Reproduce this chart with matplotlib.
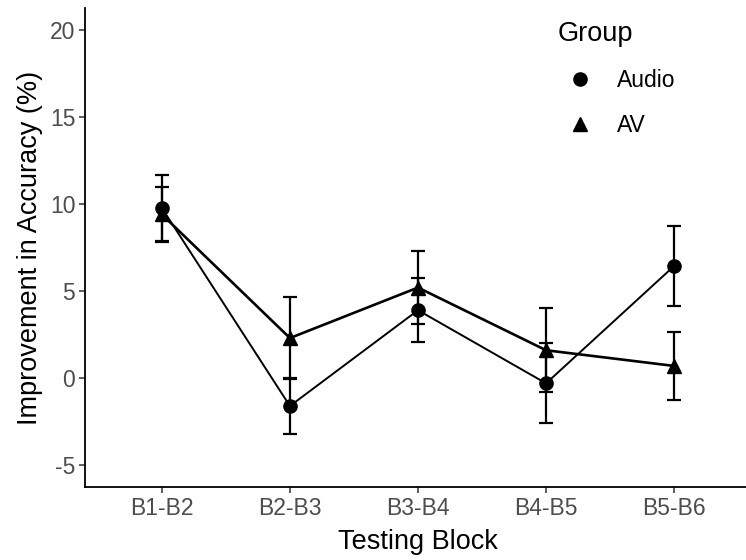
import numpy as np
import matplotlib
matplotlib.use("Agg")
import matplotlib.pyplot as plt
from matplotlib.lines import Line2D

plt.rcParams['font.family'] = ['Liberation Sans', 'DejaVu Sans']

blocks = ["B1-B2", "B2-B3", "B3-B4", "B4-B5", "B5-B6"]
audio_mean = [9.77, -1.6, 3.9, -0.3, 6.44]
audio_se = [1.9, 1.6, 1.85, 2.3, 2.3]
av_mean = [9.4, 2.3, 5.2, 1.6, 0.7]
av_se = [1.6, 2.35, 2.1, 2.4, 1.95]

fig = plt.figure(figsize=(7.46, 5.6), dpi=100)
ax = fig.add_axes([85 / 746, 73 / 560, 666 / 746, 479 / 560])

x = np.arange(1, len(blocks) + 1)

ax.errorbar(x, av_mean, yerr=av_se, color='black', lw=1.9, marker='^', ms=10,
            elinewidth=1.6, capsize=4.7, capthick=1.6, zorder=3)
ax.errorbar(x, audio_mean, yerr=audio_se, color='black', lw=1.4, marker='o', ms=9.5,
            elinewidth=1.6, capsize=4.7, capthick=1.6, zorder=4)

ax.set_xlim(0.4, 5.6)
ax.set_ylim(-6.25, 21.25)
ax.set_xticks(x)
ax.set_xticklabels(blocks)
ax.set_yticks([-5, 0, 5, 10, 15, 20])
ax.set_yticklabels(["-5", "0", "5", "10", "15", "20"])

for side in ['top', 'right']:
    ax.spines[side].set_visible(False)
for side in ['left', 'bottom']:
    ax.spines[side].set_linewidth(1.3)
    ax.spines[side].set_color('black')

ax.tick_params(axis='both', length=4, width=1.1, color='#333333',
               labelcolor='#4D4D4D', labelsize=16.5, pad=3)
ax.set_xlabel("Testing Block", fontsize=19.5, color='black', labelpad=7)
ax.set_ylabel("Improvement in Accuracy (%)", fontsize=19.5, color='black', labelpad=5)

handles = [Line2D([], [], color='black', marker='o', ls='none', ms=9.5),
           Line2D([], [], color='black', marker='^', ls='none', ms=10)]
leg = fig.legend(handles, ["Audio", "AV"], title="Group", loc='upper left',
                 bbox_to_anchor=(546 / 746, 1 - 10 / 560), frameon=False,
                 fontsize=16.5, title_fontsize=19.5, handletextpad=0.6,
                 labelspacing=0.95, borderpad=0)
leg._legend_box.align = "left"

fig.savefig("out.png", dpi=100)
